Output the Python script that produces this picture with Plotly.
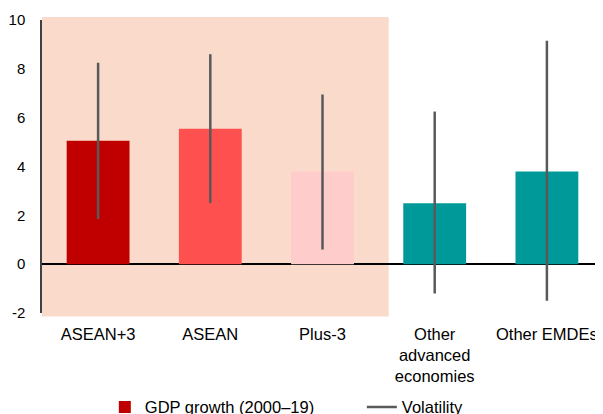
import plotly.graph_objects as go

categories = ["ASEAN+3", "ASEAN", "Plus-3", "Other<br>advanced<br>economies", "Other EMDEs"]
gdp_growth = [5.05, 5.55, 3.8, 2.5, 3.8]
vol_high = [8.25, 8.6, 6.95, 6.25, 9.15]
vol_low = [1.85, 2.5, 0.6, -1.2, -1.5]
bar_colors = ["#C00000", "#FF5050", "#FFCCCC", "#009999", "#009999"]
y_tickvals = [-2, 0, 2, 4, 6, 8, 10]
y_ticktext = ["-2", "0", "2", "4", "6", "8", "10"]

vx, vy = [], []
for c, hi, lo in zip(categories, vol_high, vol_low):
    vx += [c, c, None]
    vy += [lo, hi, None]

fig = go.Figure()
fig.add_trace(go.Bar(
    x=categories, y=gdp_growth, name="GDP growth (2000–19)",
    marker=dict(color=bar_colors, line=dict(width=0)), width=0.56,
))
fig.add_trace(go.Scatter(
    x=vx, y=vy, mode="lines", name="Volatility",
    line=dict(color="#595959", width=2.5), connectgaps=False,
))

fig.add_shape(type="rect", xref="x", yref="paper", x0=-0.5, x1=2.59, y0=-0.012, y1=1.01,
              fillcolor="#FADBCB", line=dict(width=0), layer="below")

fig.update_layout(
    width=603, height=414,
    margin=dict(l=34, r=8, t=12, b=109, autoexpand=False),
    paper_bgcolor="white", plot_bgcolor="white",
    font=dict(family="Liberation Sans, Arial, sans-serif", color="black", size=16),
    showlegend=True,
    legend=dict(orientation="h", x=0.112, xanchor="left", y=-0.262, yanchor="top",
                font=dict(size=16.5), bgcolor="rgba(0,0,0,0)", traceorder="normal",
                entrywidth=212),
)
fig.update_xaxes(range=[-0.5, 4.5], showline=False, showgrid=False, ticks="",
                 tickfont=dict(size=16.5), ticklabelstandoff=9, automargin=False)
fig.update_yaxes(range=[-2, 10], tickvals=y_tickvals, ticktext=y_ticktext, showgrid=False,
                 showline=True, linecolor="#404040",
                 linewidth=1.5, zeroline=True, zerolinecolor="black", zerolinewidth=1.5,
                 ticks="", tickfont=dict(size=15), ticklabelstandoff=12, automargin=False)

fig.write_html("out.html")
